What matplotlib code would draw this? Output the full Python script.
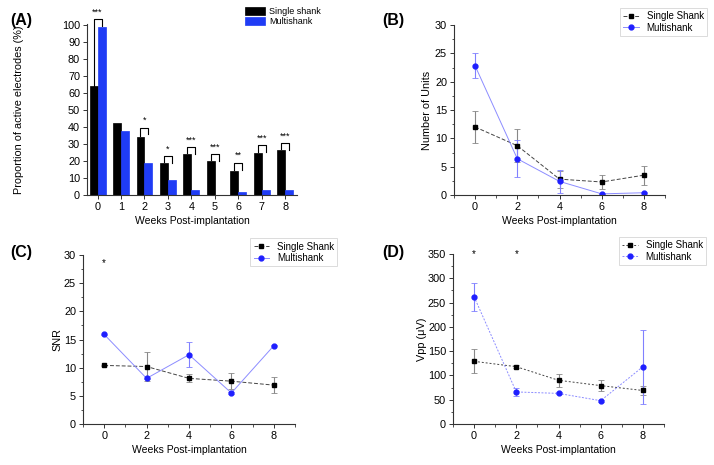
import numpy as np
import matplotlib
matplotlib.use('Agg')
import matplotlib.pyplot as plt
from matplotlib.ticker import MultipleLocator

plt.rcParams['font.family'] = ['Liberation Sans', 'DejaVu Sans']
plt.rcParams['font.size'] = 7.5

# (A) proportion of active electrodes
weeks_a = [0, 1, 2, 3, 4, 5, 6, 7, 8]
active_single = [64, 42.5, 34, 19, 24, 20, 14, 25, 26.5]
active_multi = [99, 37.5, 19, 9, 3, 0, 1.5, 3, 3]
sig_weeks = [0, 2, 3, 4, 5, 6, 7, 8]
sig_height = [103.5, 39.7, 23, 28, 24, 19, 29.5, 30.5]
sig_label = ['***', '*', '*', '***', '***', '**', '***', '***']

weeks = [0, 2, 4, 6, 8]

# (B) number of units
units_single = [12, 8.7, 2.8, 2.3, 3.5]
units_single_err = [2.9, 2.9, 1.5, 1.2, 1.7]
units_multi = [22.8, 6.4, 2.4, 0.2, 0.4]
units_multi_err = [2.2, 3.3, 2.0, 0.1, 0.1]

# (C) SNR
snr_single = [10.4, 10.2, 8.1, 7.6, 6.9]
snr_single_err = [0.1, 2.6, 0.7, 1.4, 1.4]
snr_multi = [15.9, 8.1, 12.3, 5.5, 13.9]
snr_multi_err = [0.1, 0.1, 2.2, 0.1, 0.1]
snr_star_weeks = [0]
snr_star_y = 28.6

# (D) Vpp
vpp_single = [129, 118, 90, 79, 69]
vpp_single_err = [25, 3, 13, 11, 9]
vpp_multi = [262, 66, 63, 48, 118]
vpp_multi_err = [29, 8, 2, 2, 76]
vpp_star_weeks = [0, 2]
vpp_star_y = 350

W, H = 714, 465
fig = plt.figure(figsize=(W / 100, H / 100), dpi=100)


def px_axes(left, top, right, bottom):
    return fig.add_axes([left / W, 1 - bottom / H, (right - left) / W, (bottom - top) / H])


def style_axes(ax):
    ax.spines['top'].set_visible(False)
    ax.spines['right'].set_visible(False)
    for s in ('left', 'bottom'):
        ax.spines[s].set_linewidth(0.8)
        ax.spines[s].set_color('#333333')
    ax.tick_params(direction='out', length=3, width=0.7, colors='#333333',
                   labelcolor='black', labelsize=7.8, pad=2)
    ax.tick_params(which='minor', direction='out', length=1.8, width=0.6, colors='#333333')


# ---- (A) ----
axA = px_axes(87, 23.6, 297, 195)
x = np.array(weeks_a)
bw = 0.34
axA.bar(x - bw / 2, active_single, bw, color='black', edgecolor='black', linewidth=0.5, label='Single shank')
axA.bar(x + bw / 2, active_multi, bw, color='#1f3cf5', edgecolor='#1f3cf5', linewidth=0.5, label='Multishank')
for wk, h, lab in zip(sig_weeks, sig_height, sig_label):
    xl, xr = wk - bw / 2, wk + bw / 2
    left_bottom = active_single[wk] + 0.5
    right_bottom = max(h - 4, active_multi[wk] + 0.5)
    axA.plot([xl, xl, xr, xr], [left_bottom, h, h, right_bottom], color='black', lw=0.8, clip_on=False)
    axA.text(wk, h + 1.5, lab, ha='center', va='bottom', fontsize=6.5, clip_on=False)
axA.set_xlim(-0.45, 8.5)
axA.set_ylim(0, 101)
axA.set_xticks(weeks_a)
axA.set_yticks(np.arange(0, 101, 10))
style_axes(axA)
axA.set_ylabel('Proportion of active electrodes (%)', fontsize=7.8)
axA.yaxis.set_label_coords(-0.3, 0.5)
axA.set_xlabel('Weeks Post-implantation', fontsize=7.5)
axA.xaxis.set_label_coords(0.5, -0.12)
axA.legend(loc='upper right', bbox_to_anchor=(1.13, 1.12), frameon=False, fontsize=6.5,
           handlelength=2.2, handleheight=1.0, borderaxespad=0, labelspacing=0.15,
           handletextpad=0.4)


def line_panel(ax, ys, yse, ym, yme, ylim, major, minor, ls_s, ls_m):
    ax.errorbar(weeks, ys, yerr=yse, fmt='none', ecolor='#888888', elinewidth=0.8, capsize=2, capthick=0.6)
    ax.errorbar(weeks, ym, yerr=yme, fmt='none', ecolor='#8080ff', elinewidth=0.8, capsize=2, capthick=0.6)
    ax.plot(weeks, ys, color='#444444', lw=0.7, ls=ls_s, marker='s', ms=3.5,
            mfc='black', mec='black', label='Single Shank')
    ax.plot(weeks, ym, color='#8c8cff', lw=0.7, ls=ls_m, marker='o', ms=3.5,
            mfc='#1f1fff', mec='#1f1fff', label='Multishank')
    ax.set_xlim(-1, 9)
    ax.set_ylim(*ylim)
    ax.set_xticks(weeks)
    ax.xaxis.set_minor_locator(MultipleLocator(1))
    ax.yaxis.set_major_locator(MultipleLocator(major))
    ax.yaxis.set_minor_locator(MultipleLocator(minor))
    style_axes(ax)
    ax.set_xlabel('Weeks Post-implantation', fontsize=7.5)
    ax.xaxis.set_label_coords(0.5, -0.125)
    leg = ax.legend(loc='upper right', bbox_to_anchor=(1.2, 1.1), fontsize=7, frameon=True,
                    fancybox=False, borderaxespad=0, handlelength=1.6, labelspacing=0.15,
                    borderpad=0.35)
    leg.get_frame().set_edgecolor('#cccccc')
    leg.get_frame().set_linewidth(0.6)


# ---- (B) ----
axB = px_axes(454, 25, 665, 195)
line_panel(axB, units_single, units_single_err, units_multi, units_multi_err,
           (0, 30), 5, 2.5, (0, (4, 2)), '-')
axB.set_ylabel('Number of Units', fontsize=7.8)
axB.yaxis.set_label_coords(-0.102, 0.5)

# ---- (C) ----
axC = px_axes(83, 255, 295, 424)
line_panel(axC, snr_single, snr_single_err, snr_multi, snr_multi_err,
           (0, 30), 5, 2.5, (0, (4, 2)), '-')
axC.set_ylabel('SNR', fontsize=7.8)
axC.yaxis.set_label_coords(-0.097, 0.5)
for wk in snr_star_weeks:
    axC.text(wk, snr_star_y, '*', ha='center', va='center', fontsize=7)

# ---- (D) ----
axD = px_axes(453, 254, 664, 424)
line_panel(axD, vpp_single, vpp_single_err, vpp_multi, vpp_multi_err,
           (0, 350), 50, 25, (0, (2, 2)), (0, (2, 1.5)))
axD.set_ylabel('Vpp (μV)', fontsize=7.8)
axD.yaxis.set_label_coords(-0.121, 0.5)
for wk in vpp_star_weeks:
    axD.text(wk, vpp_star_y, '*', ha='center', va='center', fontsize=7, clip_on=False)

# panel letters
for lab, px, py in [('(A)', 10, 20), ('(B)', 382, 20), ('(C)', 10, 253), ('(D)', 382, 253)]:
    fig.text(px / W, 1 - py / H, lab, fontsize=11.5, fontweight='bold', ha='left', va='center')

fig.savefig('out.png', dpi=100)
